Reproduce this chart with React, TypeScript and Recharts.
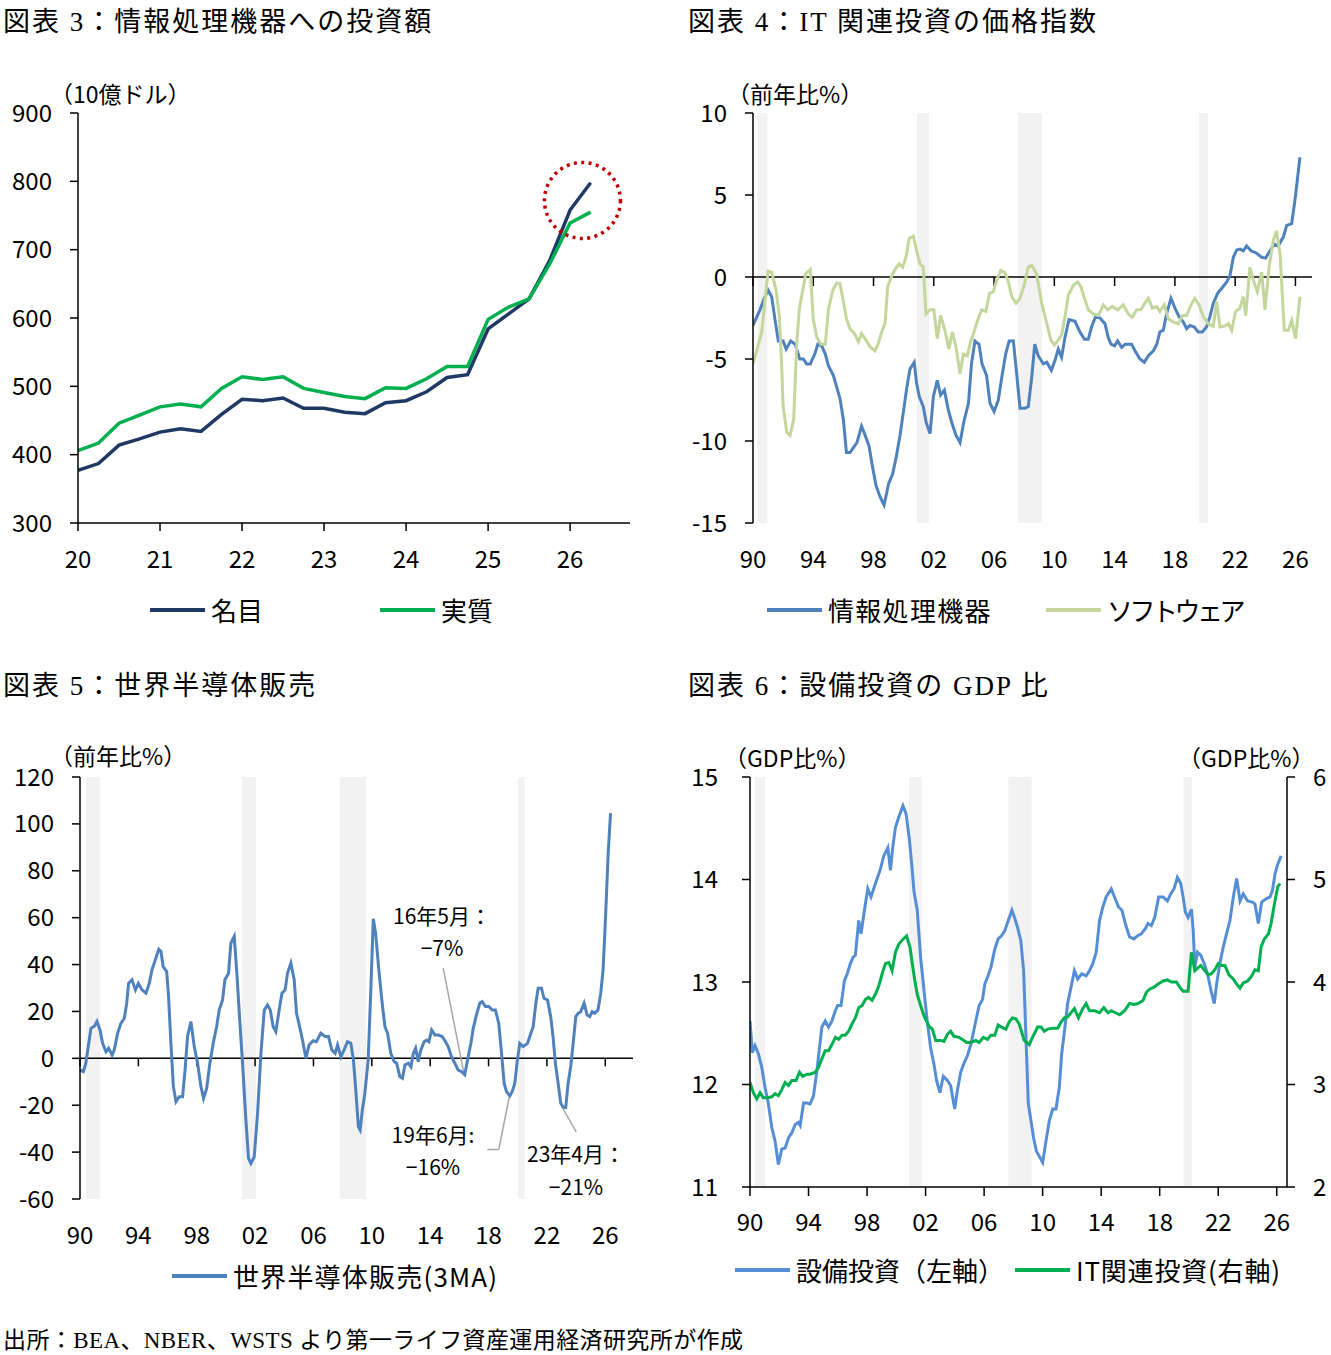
import React from 'react';
import {
  LineChart,
  Line,
  XAxis,
  YAxis,
  ReferenceArea,
  ReferenceLine,
  ReferenceDot,
} from 'recharts';

// ---------- fonts & colours ----------
const SANS = '"Noto Sans CJK JP", "Noto Sans", sans-serif';
const SERIF = '"Liberation Serif", "Noto Sans CJK JP", serif';
const NAVY = '#203864';
const GREEN = '#00B050';
const BLUE = '#4F81BD';
const LIGHT_BLUE = '#558ED5';
const SAGE = '#C3D69B';
const SHADE = '#F2F2F2';
const LEADER = '#A6A6A6';

// ---------- 図表3: 情報処理機器への投資額 (quarterly, 2020Q1–2026Q2, 10億ドル) ----------
const quarterStart = 2020;
const nominalInvest = [
  377, 387, 414, 423, 433, 438, 434, 459, 481, 479, 483, 468, 468, 462, 460, 476,
  479, 492, 513, 517, 584, 606, 628, 684, 758, 798,
];
const realInvest = [
  406, 417, 446, 458, 470, 474, 470, 497, 514, 510, 514, 497, 491, 485, 482, 498,
  497, 511, 529, 529, 598, 616, 628, 679, 739, 755,
];
const yearTicksP1 = [2020, 2021, 2022, 2023, 2024, 2025, 2026];
const investTicks = [300, 400, 500, 600, 700, 800, 900];
// highlighted recent quarters (circle centre in year / value units)
const highlight = { t: 2026.15, v: 772 };

// ---------- 図表4: IT関連投資の価格指数 (前年比%) ----------
const equipPrice: [number, number][] = [
  [1990.0, -2.95], [1990.46, -2.0], [1990.8, -1.2], [1991.0, -0.8], [1991.24, -1.2], [1991.46, -2.6],
  [1991.68, -3.9], [1992.0, -3.9], [1992.2, -4.4], [1992.5, -3.9], [1992.8, -4.1], [1993.1, -5.0],
  [1993.34, -5.0], [1993.56, -5.3], [1993.8, -5.3], [1994.1, -4.7], [1994.3, -4.1], [1994.56, -4.2],
  [1994.8, -4.7], [1995.0, -5.4], [1995.33, -6.0], [1995.55, -6.7], [1995.77, -7.4], [1996.0, -8.7],
  [1996.2, -10.7], [1996.44, -10.7], [1996.66, -10.4], [1996.9, -10.1], [1997.2, -9.1], [1997.4, -9.55],
  [1997.7, -10.3], [1997.9, -11.4], [1998.16, -12.7], [1998.43, -13.4], [1998.7, -13.9], [1999.0, -12.6],
  [1999.27, -12.0], [1999.5, -11.0], [1999.76, -9.65], [2000.0, -8.1], [2000.2, -6.8], [2000.42, -5.6],
  [2000.7, -5.2], [2000.86, -6.5], [2001.04, -7.3], [2001.3, -7.9], [2001.5, -8.9], [2001.75, -9.55],
  [2001.97, -7.3], [2002.23, -6.3], [2002.45, -7.2], [2002.7, -6.9], [2002.96, -8.1], [2003.2, -8.9],
  [2003.47, -9.65], [2003.74, -10.1], [2004.0, -8.8], [2004.3, -7.7], [2004.5, -5.3], [2004.73, -3.9],
  [2005.0, -4.1], [2005.2, -5.3], [2005.5, -6.0], [2005.73, -7.7], [2006.0, -8.2], [2006.28, -7.5],
  [2006.55, -5.9], [2006.77, -4.7], [2007.0, -3.9], [2007.28, -3.9], [2007.5, -5.9], [2007.72, -8.0],
  [2008.05, -8.0], [2008.27, -7.9], [2008.5, -6.1], [2008.7, -4.1], [2008.93, -4.8], [2009.27, -5.3],
  [2009.5, -5.2], [2009.8, -5.7], [2010.04, -5.1], [2010.26, -4.4], [2010.48, -4.9], [2010.7, -3.7],
  [2010.97, -2.6], [2011.37, -2.7], [2011.7, -3.35], [2012.0, -3.8], [2012.25, -3.8], [2012.47, -3.05],
  [2012.74, -2.4], [2013.03, -2.5], [2013.36, -2.85], [2013.58, -3.7], [2013.76, -4.1], [2014.0, -4.2],
  [2014.2, -3.9], [2014.47, -4.3], [2014.7, -4.1], [2015.13, -4.1], [2015.35, -4.5], [2015.68, -5.0],
  [2015.97, -5.2], [2016.24, -4.8], [2016.57, -4.5], [2016.8, -4.1], [2017.0, -3.35], [2017.23, -3.25],
  [2017.45, -2.25], [2017.74, -1.3], [2018.0, -1.9], [2018.27, -2.4], [2018.56, -2.75], [2018.78, -3.15],
  [2019.0, -2.95], [2019.29, -3.05], [2019.55, -3.35], [2019.82, -3.35], [2020.1, -3.05], [2020.33, -2.4],
  [2020.55, -1.6], [2020.84, -1.0], [2021.1, -0.7], [2021.44, -0.3], [2021.66, 0.1], [2021.88, 1.2],
  [2022.1, 1.65], [2022.32, 1.7], [2022.54, 1.6], [2022.76, 1.9], [2023.05, 1.6], [2023.43, 1.45],
  [2023.76, 1.2], [2024.02, 1.15], [2024.31, 1.6], [2024.6, 2.0], [2024.86, 1.9], [2025.2, 2.45],
  [2025.42, 3.15], [2025.75, 3.25], [2025.97, 4.7], [2026.15, 6.1], [2026.3, 7.3],
];
const softwarePrice: [number, number][] = [
  [1990.0, -5.3], [1990.24, -4.5], [1990.58, -3.35], [1990.8, -1.4], [1991.0, 0.37], [1991.24, 0.3],
  [1991.53, -0.8], [1991.75, -2.4], [1991.9, -5.3], [1992.0, -7.9], [1992.24, -9.45], [1992.46, -9.65],
  [1992.7, -8.7], [1992.9, -4.1], [1993.07, -2.0], [1993.3, -0.8], [1993.5, 0.2], [1993.8, 0.45],
  [1994.0, -2.6], [1994.23, -3.65], [1994.5, -4.1], [1994.8, -4.1], [1995.0, -2.0], [1995.3, -0.8],
  [1995.55, -0.37], [1995.77, -0.4], [1996.0, -1.5], [1996.2, -2.55], [1996.44, -3.15], [1996.73, -3.45],
  [1997.0, -3.95], [1997.2, -3.45], [1997.5, -3.85], [1997.77, -4.25], [1998.1, -4.5], [1998.3, -4.1],
  [1998.54, -3.35], [1998.76, -2.85], [1998.94, -0.6], [1999.2, 0.04], [1999.42, 0.45], [1999.7, 0.8],
  [1999.93, 0.6], [2000.15, 1.2], [2000.37, 2.35], [2000.64, 2.5], [2000.86, 1.6], [2001.08, 0.8],
  [2001.3, 0.6], [2001.48, -2.25], [2001.75, -2.0], [2002.0, -2.0], [2002.23, -3.75], [2002.45, -2.35],
  [2002.74, -3.25], [2003.0, -4.4], [2003.23, -3.35], [2003.47, -4.25], [2003.74, -5.9], [2003.96, -4.7],
  [2004.23, -4.8], [2004.45, -3.9], [2004.67, -3.35], [2004.9, -2.65], [2005.18, -2.0], [2005.46, -2.1],
  [2005.7, -1.0], [2005.95, -0.9], [2006.17, -0.2], [2006.44, 0.4], [2006.73, 0.26], [2006.95, -0.3],
  [2007.17, -1.2], [2007.46, -1.6], [2007.72, -1.3], [2008.0, -0.5], [2008.27, 0.6], [2008.5, 0.7],
  [2008.82, 0.2], [2009.16, -1.6], [2009.5, -2.85], [2009.77, -3.85], [2010.0, -4.15], [2010.26, -3.85],
  [2010.48, -3.55], [2010.7, -2.45], [2010.93, -1.1], [2011.26, -0.5], [2011.55, -0.3], [2011.77, -0.6],
  [2012.0, -1.3], [2012.25, -2.0], [2012.58, -2.25], [2012.92, -2.35], [2013.25, -1.7], [2013.53, -2.0],
  [2013.85, -1.8], [2014.2, -2.0], [2014.58, -1.7], [2014.9, -2.25], [2015.17, -2.45], [2015.46, -2.0],
  [2015.75, -2.0], [2016.0, -1.6], [2016.24, -1.3], [2016.5, -1.9], [2016.8, -1.8], [2017.0, -2.1],
  [2017.3, -1.7], [2017.56, -2.55], [2017.9, -2.75], [2018.23, -2.85], [2018.5, -2.35], [2018.78, -2.35],
  [2019.07, -1.7], [2019.33, -1.3], [2019.6, -1.7], [2019.9, -2.45], [2020.22, -2.85], [2020.55, -3.0],
  [2020.77, -1.5], [2020.99, -3.05], [2021.28, -3.0], [2021.55, -2.85], [2021.77, -3.25], [2022.03, -2.1],
  [2022.32, -1.9], [2022.54, -1.2], [2022.7, -2.35], [2022.98, 0.6], [2023.2, -0.2], [2023.47, -0.9],
  [2023.76, 0.3], [2023.98, -2.0], [2024.25, 0.6], [2024.53, 2.25], [2024.75, 2.8], [2024.98, 1.4],
  [2025.26, -3.25], [2025.53, -3.25], [2025.75, -2.65], [2026.01, -3.75], [2026.3, -1.2],
];
const priceTicks = [-15, -10, -5, 0, 5, 10];
const recessionsP4: [number, number][] = [[1990.3, 1990.95], [2000.88, 2001.68], [2007.58, 2009.18], [2019.6, 2020.19]];

// ---------- 図表5: 世界半導体販売 (3MA, 前年比%) ----------
const semiSales: [number, number][] = [
  [1990.0, -5], [1990.23, -5.7], [1990.4, -2.1], [1990.6, 6.4], [1990.75, 12.8], [1991.0, 13.8],
  [1991.16, 15.7], [1991.37, 12.1], [1991.55, 6.4], [1991.78, 2.8], [1991.96, 4.3], [1992.2, 1.4],
  [1992.35, 3.6], [1992.58, 10.7], [1992.8, 14.9], [1993.04, 17.1], [1993.2, 23.5], [1993.33, 32.0],
  [1993.56, 33.5], [1993.8, 29.2], [1994.0, 32.0], [1994.25, 29.2], [1994.52, 27.8], [1994.75, 32.0],
  [1994.93, 37.7], [1995.16, 42.0], [1995.4, 46.5], [1995.55, 45.6], [1995.7, 39.1], [1995.94, 37.0],
  [1996.07, 26.3], [1996.23, 6.4], [1996.4, -12.1], [1996.58, -18.5], [1996.8, -16.4], [1997.03, -16.4],
  [1997.2, -5.0], [1997.37, 9.3], [1997.6, 15.7], [1997.83, 5.0], [1998.06, -2.1], [1998.29, -12.1],
  [1998.47, -17.1], [1998.68, -12.8], [1998.9, -2.1], [1999.13, 6.4], [1999.36, 13.5], [1999.54, 20.6],
  [1999.77, 24.9], [1999.93, 33.5], [2000.18, 36.3], [2000.34, 49.1], [2000.57, 52.0], [2000.75, 36.3],
  [2000.96, 14.9], [2001.14, -2.1], [2001.37, -26.3], [2001.55, -42.7], [2001.71, -44.8], [2001.94, -42.0],
  [2002.17, -23.5], [2002.4, 2.1], [2002.63, 20.6], [2002.85, 22.8], [2003.04, 20.6], [2003.24, 13.5],
  [2003.42, 11.4], [2003.65, 20.6], [2003.84, 27.8], [2004.06, 29.2], [2004.22, 36.3], [2004.45, 40.6],
  [2004.68, 33.5], [2004.84, 19.2], [2005.0, 14.9], [2005.25, 7.8], [2005.48, 0], [2005.7, 5.7],
  [2005.98, 7.5], [2006.2, 7.1], [2006.5, 10.7], [2006.8, 9.3], [2007.03, 9.3], [2007.26, 3.6],
  [2007.49, 2.1], [2007.65, 5.7], [2007.88, 0.7], [2008.1, 3.6], [2008.33, 7.1], [2008.56, 6.4],
  [2008.74, -0.7], [2008.9, -13.5], [2009.08, -29.2], [2009.2, -30.6], [2009.35, -22], [2009.52, -15],
  [2009.75, -0.7], [2009.94, 30.6], [2010.1, 59.5], [2010.26, 53.4], [2010.48, 37.7], [2010.71, 23.5],
  [2010.9, 13.5], [2011.08, 10.7], [2011.3, 2.1], [2011.53, -1.4], [2011.7, -2.1], [2011.92, -7.8],
  [2012.1, -8.5], [2012.27, -2.8], [2012.5, -2.1], [2012.68, -3.6], [2012.84, 2.1], [2013.0, 4.3],
  [2013.18, -1.4], [2013.36, 3.6], [2013.59, 7.1], [2013.75, 7.8], [2013.91, 7.1], [2014.1, 12.1],
  [2014.32, 10.0], [2014.55, 10.0], [2014.82, 9.3], [2015.05, 7.1], [2015.23, 5.0], [2015.46, 0.7],
  [2015.69, -2.1], [2015.92, -5.0], [2016.15, -5.7], [2016.37, -7], [2016.56, -0.7], [2016.79, 6.4],
  [2016.95, 12.8], [2017.17, 18.5], [2017.4, 23.5], [2017.56, 24.2], [2017.79, 22.1], [2018.02, 22.1],
  [2018.25, 20.6], [2018.47, 20.6], [2018.7, 14.9], [2018.89, 2.1], [2019.07, -10.7], [2019.23, -14.2],
  [2019.46, -16], [2019.62, -14.2], [2019.8, -10.7], [2019.96, -1.4], [2020.14, 6.4], [2020.37, 5.0],
  [2020.67, 6.4], [2020.9, 10.7], [2021.06, 13.5], [2021.24, 23.5], [2021.4, 29.9], [2021.63, 29.9],
  [2021.8, 25.6], [2022.04, 24.9], [2022.26, 17.8], [2022.42, 9.3], [2022.58, -2.1], [2022.77, -10.7],
  [2022.95, -19.2], [2023.11, -20.8], [2023.29, -21], [2023.45, -10.7], [2023.63, -3.6], [2023.8, 6.4],
  [2023.98, 17.8], [2024.14, 19.2], [2024.32, 19.9], [2024.55, 23.5], [2024.75, 18.5], [2024.94, 17.8],
  [2025.1, 19.9], [2025.28, 19.2], [2025.5, 20.6], [2025.69, 27.8], [2025.85, 37.7], [2026.01, 59.1],
  [2026.2, 87.5], [2026.36, 104.6],
];
const semiTicks = [-60, -40, -20, 0, 20, 40, 60, 80, 100, 120];
const recessionsP5: [number, number][] = [[1990.41, 1991.37], [2001.1, 2002.05], [2007.8, 2009.6], [2020.0, 2020.48]];
// troughs called out on the chart (time of the point, date text)
const semiCallouts = [
  { t: 2016.37, date: '16年5月：' },
  { t: 2019.46, date: '19年6月:' },
  { t: 2023.29, date: '23年4月：' },
];

// ---------- 図表6: 設備投資のGDP比 ----------
const capexGdp: [number, number][] = [
  [1990.0, 12.62], [1990.16, 12.31], [1990.34, 12.38], [1990.57, 12.3], [1990.8, 12.17], [1991.03, 11.97],
  [1991.26, 11.81], [1991.49, 11.58], [1991.71, 11.45], [1991.94, 11.22], [1992.17, 11.37], [1992.4, 11.38],
  [1992.63, 11.48], [1992.86, 11.53], [1993.09, 11.61], [1993.31, 11.63], [1993.43, 11.6], [1993.66, 11.82],
  [1993.89, 11.82], [1994.11, 11.81], [1994.34, 11.89], [1994.57, 12.13], [1994.75, 12.36], [1994.91, 12.56],
  [1995.14, 12.62], [1995.37, 12.56], [1995.6, 12.62], [1995.83, 12.72], [1995.99, 12.77], [1996.22, 12.77],
  [1996.45, 13.01], [1996.67, 13.09], [1996.86, 13.18], [1997.04, 13.24], [1997.2, 13.26], [1997.43, 13.6],
  [1997.59, 13.47], [1997.82, 13.7], [1998.05, 13.91], [1998.27, 13.83], [1998.5, 13.93], [1998.69, 14.01],
  [1998.91, 14.1], [1999.14, 14.23], [1999.42, 14.31], [1999.6, 14.09], [1999.76, 14.32], [1999.94, 14.51],
  [2000.17, 14.61], [2000.45, 14.72], [2000.67, 14.64], [2000.9, 14.38], [2001.09, 14.09], [2001.2, 13.89],
  [2001.43, 13.7], [2001.66, 13.24], [2001.89, 12.92], [2002.11, 12.62], [2002.34, 12.36], [2002.57, 12.2],
  [2002.75, 12.04], [2002.98, 11.92], [2003.21, 12.08], [2003.49, 12.04], [2003.71, 11.99], [2003.99, 11.76],
  [2004.17, 11.94], [2004.4, 12.12], [2004.63, 12.21], [2004.86, 12.28], [2005.09, 12.39], [2005.27, 12.51],
  [2005.43, 12.62], [2005.66, 12.77], [2005.89, 12.83], [2006.05, 12.98], [2006.27, 13.06], [2006.46, 13.14],
  [2006.73, 13.32], [2006.96, 13.42], [2007.19, 13.45], [2007.41, 13.5], [2007.65, 13.6], [2007.9, 13.7],
  [2008.1, 13.62], [2008.29, 13.53], [2008.51, 13.4], [2008.7, 13.11], [2008.86, 12.46], [2009.02, 11.81],
  [2009.2, 11.65], [2009.38, 11.48], [2009.57, 11.35], [2009.77, 11.3], [2010.0, 11.24], [2010.23, 11.45],
  [2010.46, 11.65], [2010.69, 11.76], [2010.91, 11.76], [2011.14, 11.97], [2011.3, 12.3], [2011.49, 12.52],
  [2011.71, 12.79], [2011.94, 12.95], [2012.17, 13.11], [2012.4, 13.03], [2012.67, 13.08], [2012.97, 13.06],
  [2013.2, 13.11], [2013.43, 13.18], [2013.66, 13.29], [2013.89, 13.6], [2014.11, 13.73], [2014.34, 13.83],
  [2014.69, 13.91], [2014.91, 13.83], [2015.19, 13.73], [2015.42, 13.7], [2015.65, 13.57], [2015.94, 13.44],
  [2016.24, 13.42], [2016.47, 13.45], [2016.74, 13.47], [2017.02, 13.52], [2017.2, 13.57], [2017.43, 13.55],
  [2017.66, 13.63], [2017.93, 13.83], [2018.23, 13.83], [2018.53, 13.79], [2018.75, 13.86], [2018.98, 13.91],
  [2019.21, 14.02], [2019.44, 13.96], [2019.6, 13.83], [2019.76, 13.68], [2019.94, 13.63], [2020.17, 13.71],
  [2020.29, 13.5], [2020.4, 13.14], [2020.58, 13.29], [2020.81, 13.26], [2021.04, 13.18], [2021.27, 13.08],
  [2021.5, 12.92], [2021.73, 12.79], [2021.89, 12.98], [2022.11, 13.18], [2022.34, 13.34], [2022.57, 13.47],
  [2022.8, 13.6], [2023.03, 13.83], [2023.26, 14.01], [2023.49, 13.79], [2023.71, 13.86], [2024.01, 13.79],
  [2024.33, 13.78], [2024.51, 13.76], [2024.74, 13.57], [2024.97, 13.78], [2025.25, 13.81], [2025.54, 13.83],
  [2025.7, 13.89], [2025.89, 14.06], [2026.07, 14.15], [2026.3, 14.23],
];
const itInvestGdp: [number, number][] = [
  [1990.0, 3.02], [1990.23, 2.92], [1990.46, 2.86], [1990.69, 2.92], [1990.91, 2.87], [1991.19, 2.87],
  [1991.49, 2.88], [1991.71, 2.91], [1991.94, 2.89], [1992.17, 2.95], [1992.4, 3.02], [1992.63, 2.99],
  [1992.86, 3.04], [1993.15, 3.04], [1993.38, 3.12], [1993.61, 3.08], [1993.89, 3.1], [1994.11, 3.1],
  [1994.46, 3.12], [1994.69, 3.17], [1994.91, 3.25], [1995.14, 3.33], [1995.37, 3.33], [1995.6, 3.39],
  [1995.83, 3.46], [1996.06, 3.44], [1996.29, 3.48], [1996.51, 3.48], [1996.74, 3.52], [1996.97, 3.59],
  [1997.2, 3.65], [1997.43, 3.75], [1997.66, 3.77], [1997.89, 3.83], [1998.11, 3.85], [1998.34, 3.82],
  [1998.57, 3.88], [1998.8, 3.96], [1999.03, 4.08], [1999.26, 4.18], [1999.49, 4.19], [1999.71, 4.11],
  [1999.94, 4.29], [2000.17, 4.37], [2000.47, 4.42], [2000.7, 4.45], [2000.93, 4.34], [2001.09, 4.18],
  [2001.27, 4.01], [2001.43, 3.88], [2001.66, 3.77], [2001.89, 3.67], [2002.23, 3.57], [2002.46, 3.54],
  [2002.69, 3.43], [2003.03, 3.43], [2003.26, 3.42], [2003.49, 3.49], [2003.71, 3.52], [2003.94, 3.47],
  [2004.29, 3.46], [2004.51, 3.44], [2004.81, 3.41], [2005.09, 3.41], [2005.43, 3.43], [2005.66, 3.41],
  [2005.95, 3.46], [2006.23, 3.44], [2006.46, 3.48], [2006.73, 3.48], [2006.96, 3.58], [2007.19, 3.56],
  [2007.49, 3.54], [2007.71, 3.61], [2007.94, 3.65], [2008.17, 3.64], [2008.4, 3.59], [2008.74, 3.43],
  [2009.09, 3.39], [2009.31, 3.46], [2009.66, 3.56], [2009.89, 3.56], [2010.11, 3.52], [2010.34, 3.54],
  [2010.69, 3.55], [2011.03, 3.55], [2011.26, 3.61], [2011.49, 3.65], [2011.71, 3.66], [2011.94, 3.7],
  [2012.17, 3.74], [2012.45, 3.65], [2012.74, 3.74], [2012.97, 3.79], [2013.2, 3.72], [2013.54, 3.72],
  [2013.89, 3.7], [2014.18, 3.75], [2014.46, 3.7], [2014.69, 3.72], [2014.98, 3.7], [2015.26, 3.68],
  [2015.6, 3.72], [2015.94, 3.79], [2016.24, 3.78], [2016.51, 3.79], [2016.86, 3.82], [2017.09, 3.9],
  [2017.31, 3.93], [2017.61, 3.95], [2017.89, 3.98], [2018.23, 4.01], [2018.53, 4.02], [2018.8, 4.0],
  [2019.14, 4.0], [2019.37, 3.95], [2019.6, 3.91], [2019.94, 3.91], [2020.06, 4.11], [2020.17, 4.29],
  [2020.4, 4.11], [2020.63, 4.14], [2020.81, 4.16], [2021.09, 4.11], [2021.31, 4.07], [2021.54, 4.08],
  [2021.77, 4.12], [2022.0, 4.18], [2022.23, 4.16], [2022.46, 4.16], [2022.73, 4.07], [2023.03, 4.03],
  [2023.26, 3.98], [2023.49, 3.94], [2023.71, 3.99], [2024.01, 4.01], [2024.29, 4.06], [2024.51, 4.12],
  [2024.74, 4.11], [2024.93, 4.34], [2025.15, 4.42], [2025.43, 4.47], [2025.61, 4.57], [2025.84, 4.76],
  [2026.07, 4.93], [2026.23, 4.96],
];
const capexTicks = [11, 12, 13, 14, 15];
const itTicks = [2, 3, 4, 5, 6];
const recessionsP6: [number, number][] = [[1990.34, 1991.03], [2000.87, 2001.74], [2007.66, 2009.25], [2019.62, 2020.19]];

const longYearTicks = [1990, 1994, 1998, 2002, 2006, 2010, 2014, 2018, 2022, 2026];

// ---------- helpers ----------
const pairs = (arr: [number, number][]) => arr.map(([t, v]) => ({ t, v }));
const quarterly = (vals: number[]) => vals.map((v, i) => ({ t: quarterStart + i * 0.25, v }));
const yy = (v: number) => String(v).slice(2);
const pct = (v: number) => (v < 0 ? '\u2212' + Math.abs(v) : String(v)) + '%';

const tickFont = { fill: '#000', fontSize: 24, fontFamily: SANS };
const axisStroke = { stroke: '#000', strokeWidth: 1.5 };

const abs = (left: number, top: number): React.CSSProperties => ({ position: 'absolute', left, top });

function Title({ x, y, text }: { x: number; y: number; text: string }) {
  return (
    <div style={{ ...abs(x, y), fontFamily: SERIF, fontSize: 27, lineHeight: '32px', whiteSpace: 'nowrap', letterSpacing: 2, color: '#000' }}>
      {text}
    </div>
  );
}

function Unit({ x, y, text }: { x: number; y: number; text: string }) {
  return (
    <div style={{ ...abs(x, y), fontFamily: SANS, fontSize: 23, lineHeight: '28px', whiteSpace: 'nowrap', color: '#000' }}>
      {text}
    </div>
  );
}

function LegendItem({ x, y, color, name, spacing = 0 }: { x: number; y: number; color: string; name: string; spacing?: number }) {
  return (
    <div style={{ ...abs(x, y), display: 'flex', alignItems: 'center', height: 30, whiteSpace: 'nowrap' }}>
      <div style={{ width: 55, height: 4, background: color }} />
      <span style={{ marginLeft: 6, fontFamily: SANS, fontSize: 26, lineHeight: '30px', letterSpacing: spacing, color: '#000' }}>{name}</span>
    </div>
  );
}

function InvestChart() {
  return (
    <LineChart width={660} height={520} margin={{ top: 33, right: 30, bottom: 27, left: 0 }}>
      <XAxis
        type="number"
        dataKey="t"
        domain={[2020, 2026.73]}
        allowDataOverflow
        ticks={yearTicksP1}
        tickFormatter={yy}
        height={50}
        tickSize={8}
        tickMargin={20}
        axisLine={axisStroke}
        tickLine={axisStroke}
        tick={tickFont}
      />
      <YAxis
        type="number"
        domain={[300, 900]}
        ticks={investTicks}
        width={78}
        tickSize={8}
        tickMargin={18}
        axisLine={axisStroke}
        tickLine={axisStroke}
        tick={tickFont}
      />
      <Line data={quarterly(nominalInvest)} dataKey="v" stroke={NAVY} strokeWidth={3.5} dot={false} isAnimationActive={false} />
      <Line data={quarterly(realInvest)} dataKey="v" stroke={GREEN} strokeWidth={3.5} dot={false} isAnimationActive={false} />
      <ReferenceDot x={highlight.t} y={highlight.v} r={38} fill="none" stroke="#C00000" strokeWidth={3.5} strokeDasharray="3 4.4" />
    </LineChart>
  );
}

function PriceChart() {
  return (
    <LineChart width={660} height={520} margin={{ top: 33, right: 18, bottom: 27, left: 0 }}>
      {recessionsP4.map(([a, b]) => (
        <ReferenceArea key={a} x1={a} x2={b} fill={SHADE} fillOpacity={1} stroke="none" />
      ))}
      <XAxis
        type="number"
        dataKey="t"
        domain={[1990, 2027.1]}
        allowDataOverflow
        ticks={longYearTicks}
        tickFormatter={yy}
        height={50}
        tickSize={0}
        tickMargin={28}
        axisLine={false}
        tickLine={false}
        tick={tickFont}
      />
      <YAxis
        type="number"
        domain={[-15, 10]}
        ticks={priceTicks}
        width={83}
        tickSize={8}
        tickMargin={18}
        axisLine={axisStroke}
        tickLine={axisStroke}
        tick={tickFont}
      />
      <ReferenceLine y={0} stroke="#000" strokeWidth={1.5} />
      {longYearTicks.map((t) => (
        <ReferenceLine key={t} segment={[{ x: t, y: 0 }, { x: t, y: -0.55 }]} stroke="#000" strokeWidth={1.5} />
      ))}
      <Line data={pairs(equipPrice)} dataKey="v" stroke={BLUE} strokeWidth={3} dot={false} isAnimationActive={false} />
      <Line data={pairs(softwarePrice)} dataKey="v" stroke={SAGE} strokeWidth={3} dot={false} isAnimationActive={false} />
    </LineChart>
  );
}

function SemiChart() {
  const lookup = (t: number) => semiSales.find((p) => p[0] === t)![1];
  return (
    <LineChart width={660} height={520} margin={{ top: 37, right: 27, bottom: 11, left: 0 }}>
      {recessionsP5.map(([a, b]) => (
        <ReferenceArea key={a} x1={a} x2={b} fill={SHADE} fillOpacity={1} stroke="none" />
      ))}
      <XAxis
        type="number"
        dataKey="t"
        domain={[1990, 2027.9]}
        allowDataOverflow
        ticks={longYearTicks}
        tickFormatter={yy}
        height={50}
        tickSize={0}
        tickMargin={28}
        axisLine={false}
        tickLine={false}
        tick={tickFont}
      />
      <YAxis
        type="number"
        domain={[-60, 120]}
        ticks={semiTicks}
        width={80}
        tickSize={8}
        tickMargin={18}
        axisLine={axisStroke}
        tickLine={axisStroke}
        tick={tickFont}
      />
      <ReferenceLine y={0} stroke="#000" strokeWidth={1.5} />
      {longYearTicks.map((t) => (
        <ReferenceLine key={t} segment={[{ x: t, y: 0 }, { x: t, y: -3.4 }]} stroke="#000" strokeWidth={1.5} />
      ))}
      {/* leader lines from the callout texts to the troughs */}
      <ReferenceLine segment={[{ x: 2014.89, y: 38.5 }, { x: 2016.3, y: lookup(2016.37) + 1 }]} stroke={LEADER} strokeWidth={1.5} />
      <ReferenceLine segment={[{ x: 2017.92, y: -38.9 }, { x: 2018.7, y: -38.9 }]} stroke={LEADER} strokeWidth={1.5} />
      <ReferenceLine segment={[{ x: 2018.7, y: -38.9 }, { x: 2019.42, y: lookup(2019.46) - 0.5 }]} stroke={LEADER} strokeWidth={1.5} />
      <ReferenceLine segment={[{ x: 2023.1, y: lookup(2023.29) - 0.4 }, { x: 2024.01, y: -31.4 }]} stroke={LEADER} strokeWidth={1.5} />
      <Line data={pairs(semiSales)} dataKey="v" stroke={BLUE} strokeWidth={3} dot={false} isAnimationActive={false} />
    </LineChart>
  );
}

function CapexChart() {
  return (
    <LineChart width={660} height={520} margin={{ top: 37, right: 0, bottom: 23, left: 0 }}>
      {recessionsP6.map(([a, b]) => (
        <ReferenceArea key={a} yAxisId="left" x1={a} x2={b} fill={SHADE} fillOpacity={1} stroke="none" />
      ))}
      <XAxis
        type="number"
        dataKey="t"
        domain={[1990, 2026.7]}
        allowDataOverflow
        ticks={longYearTicks}
        tickFormatter={yy}
        height={50}
        tickSize={9}
        tickMargin={18}
        axisLine={axisStroke}
        tickLine={axisStroke}
        tick={tickFont}
      />
      <YAxis
        yAxisId="left"
        type="number"
        domain={[11, 15]}
        ticks={capexTicks}
        width={80}
        tickSize={8}
        tickMargin={24}
        axisLine={axisStroke}
        tickLine={axisStroke}
        tick={tickFont}
      />
      <YAxis
        yAxisId="right"
        orientation="right"
        type="number"
        domain={[2, 6]}
        ticks={itTicks}
        width={43}
        tickSize={8}
        tickMargin={18}
        axisLine={axisStroke}
        tickLine={axisStroke}
        tick={tickFont}
      />
      <Line yAxisId="left" data={pairs(capexGdp)} dataKey="v" stroke={LIGHT_BLUE} strokeWidth={3} dot={false} isAnimationActive={false} />
      <Line yAxisId="right" data={pairs(itInvestGdp)} dataKey="v" stroke={GREEN} strokeWidth={3} dot={false} isAnimationActive={false} />
    </LineChart>
  );
}

export default function App() {
  const calloutPos = [
    { x: 442, y1: 915, y2: 947 },
    { x: 433, y1: 1134, y2: 1166 },
    { x: 576, y1: 1153, y2: 1186 },
  ];
  return (
    <div style={{ position: 'absolute', left: 0, top: 0, width: 1331, height: 1355, background: '#fff', overflow: 'hidden' }}>
      <Title x={3} y={6} text="図表 3：情報処理機器への投資額" />
      <Title x={688} y={6} text="図表 4：IT 関連投資の価格指数" />
      <Title x={3} y={670} text="図表 5：世界半導体販売" />
      <Title x={688} y={670} text="図表 6：設備投資の GDP 比" />

      <div style={abs(0, 80)}><InvestChart /></div>
      <div style={abs(670, 80)}><PriceChart /></div>
      <div style={abs(0, 740)}><SemiChart /></div>
      <div style={abs(670, 740)}><CapexChart /></div>

      <Unit x={50} y={79} text="（10億ドル）" />
      <Unit x={727} y={79} text="（前年比%）" />
      <Unit x={50} y={741} text="（前年比%）" />
      <Unit x={724} y={743} text="（GDP比%）" />
      <Unit x={1178} y={743} text="（GDP比%）" />

      {semiCallouts.map((c, i) => {
        const v = semiSales.find((p) => p[0] === c.t)![1];
        const pos = calloutPos[i];
        const style: React.CSSProperties = {
          position: 'absolute', width: 160, left: pos.x - 80, textAlign: 'center',
          fontFamily: SANS, fontSize: 21, lineHeight: '26px', color: '#000', whiteSpace: 'nowrap',
        };
        return (
          <React.Fragment key={c.t}>
            <div style={{ ...style, top: pos.y1 - 13 }}>{c.date}</div>
            <div style={{ ...style, top: pos.y2 - 13 }}>{pct(v)}</div>
          </React.Fragment>
        );
      })}

      <LegendItem x={150} y={595} color={NAVY} name="名目" />
      <LegendItem x={380} y={595} color={GREEN} name="実質" />
      <LegendItem x={767} y={595} color={BLUE} name="情報処理機器" spacing={1.3} />
      <LegendItem x={1046} y={595} color={SAGE} name="ソフトウェア" spacing={-3.5} />
      <LegendItem x={172} y={1261} color={BLUE} name="世界半導体販売(3MA)" spacing={1.2} />
      <LegendItem x={735} y={1255} color={LIGHT_BLUE} name="設備投資（左軸）" />
      <LegendItem x={1015} y={1255} color={GREEN} name="IT関連投資(右軸)" spacing={0.8} />

      <div style={{ ...abs(3, 1327), fontFamily: SERIF, fontSize: 23, lineHeight: '28px', whiteSpace: 'nowrap', letterSpacing: 0.4, color: '#000' }}>
        出所：BEA、NBER、WSTS より第一ライフ資産運用経済研究所が作成
      </div>
    </div>
  );
}
